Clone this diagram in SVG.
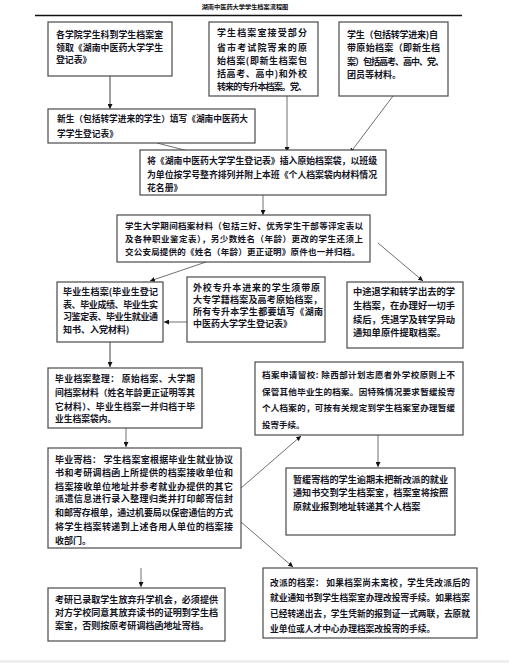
<svg xmlns="http://www.w3.org/2000/svg" width="509" height="663" viewBox="0 0 509 663">
<style>
.box{fill:#fff;stroke:#4a4a4a;stroke-width:1.2}
.t{font-family:"Noto Sans CJK SC","Noto Sans",sans-serif;font-weight:bold;fill:#15151f}
.c{fill:none;stroke:#707070;stroke-width:1}
.cg{fill:none;stroke:#8a8a8a;stroke-width:1.6}
.title{font-family:"Noto Sans CJK SC","Noto Sans",sans-serif;font-weight:bold;font-size:6.2px;fill:#111}
</style>
<defs>
<marker id="ah" viewBox="0 0 10 10" refX="10" refY="5" markerWidth="5" markerHeight="5" markerUnits="userSpaceOnUse" orient="auto">
<path d="M0,0 L10,5 L0,10 z" fill="#111"/>
</marker>
</defs>
<rect width="509" height="663" fill="#fff"/>
<rect x="0" y="660" width="509" height="3" fill="#efefef"/>
<text class="title" x="245" y="9" text-anchor="middle">湖南中医药大学学生档案流程图</text>
<line x1="35" y1="15.5" x2="462" y2="15.5" stroke="#111" stroke-width="1.3"/>

<g id="connectors">
<line class="cg" x1="110" y1="76" x2="110" y2="109" marker-end="url(#ah)"/>
<line class="c" x1="287" y1="96" x2="287" y2="152" marker-end="url(#ah)"/>
<line class="c" x1="393" y1="96" x2="350" y2="153" marker-end="url(#ah)"/>
<line class="c" x1="157" y1="143" x2="200" y2="154" marker-end="url(#ah)"/>
<line class="c" x1="263" y1="195" x2="263" y2="215" marker-end="url(#ah)"/>
<line class="c" x1="206" y1="262" x2="150" y2="281" marker-end="url(#ah)"/>
<line class="c" x1="378" y1="243" x2="423" y2="281" marker-end="url(#ah)"/>
<line class="c" x1="187" y1="322" x2="164" y2="322" marker-end="url(#ah)"/>
<line class="cg" x1="110" y1="342" x2="110" y2="367" marker-end="url(#ah)"/>
<line class="c" x1="126" y1="428" x2="126" y2="447" marker-end="url(#ah)"/>
<line class="c" x1="241" y1="488" x2="301" y2="436" marker-end="url(#ah)"/>
<line class="c" x1="378" y1="435" x2="378" y2="467" marker-end="url(#ah)"/>
<line class="c" x1="241" y1="522" x2="293" y2="567" marker-end="url(#ah)"/>
<line class="c" x1="141" y1="568" x2="141" y2="587" marker-end="url(#ah)"/>
</g>

<g id="n1">
<rect class="box" x="48" y="22" width="124" height="54"/>
<text class="t" font-size="8.9">
<tspan x="56" y="37.5" textLength="107" lengthAdjust="spacing">各学院学生科到学生档案室</tspan>
<tspan x="56" y="50.5" textLength="107" lengthAdjust="spacing">领取《湖南中医药大学学生</tspan>
<tspan x="56" y="62.5">登记表》</tspan>
</text>
</g>

<g id="n2">
<rect class="box" x="209" y="22" width="109" height="74"/>
<text class="t" font-size="9">
<tspan x="217" y="35.5" textLength="90" lengthAdjust="spacing">学生档案室接受部分</tspan>
<tspan x="217" y="50.5" textLength="90" lengthAdjust="spacing">省市考试院寄来的原</tspan>
<tspan x="217" y="64" textLength="90" lengthAdjust="spacing">始档案(即新生档案包</tspan>
<tspan x="217" y="77" textLength="90" lengthAdjust="spacing">括高考、高中)和外校</tspan>
<tspan x="217" y="90" textLength="90" lengthAdjust="spacing">转来的专升本档案。党、</tspan>
</text>
</g>

<g id="n3">
<rect class="box" x="339" y="22" width="109" height="74"/>
<text class="t" font-size="9">
<tspan x="347" y="37.5" textLength="91" lengthAdjust="spacing">学生（包括转学进来)自</tspan>
<tspan x="347" y="51" textLength="93" lengthAdjust="spacing">带原始档案（即新生档</tspan>
<tspan x="347" y="65" textLength="97" lengthAdjust="spacing">案）包括高考、高中、党、</tspan>
<tspan x="347" y="78">团员等材料。</tspan>
</text>
</g>

<g id="n4">
<rect class="box" x="48" y="109" width="207" height="34"/>
<text class="t" font-size="8.7">
<tspan x="57" y="121.5" textLength="191" lengthAdjust="spacing">新生（包括转学进来的学生）填写《湖南中医药大</tspan>
<tspan x="57" y="136.5">学学生登记表》</tspan>
</text>
</g>

<g id="n5">
<rect class="box" x="140" y="150" width="246" height="45"/>
<text class="t" font-size="8.85">
<tspan x="147" y="164" textLength="230" lengthAdjust="spacing">将《湖南中医药大学学生登记表》插入原始档案袋，以班级</tspan>
<tspan x="147" y="178" textLength="230" lengthAdjust="spacing">为单位按学号整齐排列并附上本班《个人档案袋内材料情况</tspan>
<tspan x="147" y="190.5">花名册》</tspan>
</text>
</g>

<g id="n6">
<rect class="box" x="117" y="215" width="253" height="47"/>
<text class="t" font-size="8.5">
<tspan x="125" y="229" textLength="238" lengthAdjust="spacing">学生大学期间档案材料（包括三好、优秀学生干部等评定表以</tspan>
<tspan x="125" y="241.5" textLength="238" lengthAdjust="spacing">及各种职业鉴定表），另少数姓名（年龄）更改的学生还须上</tspan>
<tspan x="125" y="255" textLength="235" lengthAdjust="spacing">交公安局提供的《姓名（年龄）更正证明》原件也一并归档。</tspan>
</text>
</g>

<g id="n7">
<rect class="box" x="57" y="282" width="106" height="60"/>
<text class="t" font-size="9">
<tspan x="63" y="295" textLength="95" lengthAdjust="spacing">毕业生档案(毕业生登记</tspan>
<tspan x="63" y="307.5" textLength="95" lengthAdjust="spacing">表、毕业成绩、毕业生实</tspan>
<tspan x="63" y="320" textLength="95" lengthAdjust="spacing">习鉴定表、毕业生就业通</tspan>
<tspan x="63" y="332.5">知书、入党材料)</tspan>
</text>
</g>

<g id="n8">
<rect class="box" x="187" y="277" width="138" height="65"/>
<text class="t" font-size="9">
<tspan x="193" y="291" textLength="127" lengthAdjust="spacing">外校专升本进来的学生须带原</tspan>
<tspan x="193" y="302.5" textLength="129" lengthAdjust="spacing">大专学籍档案及高考原始档案，</tspan>
<tspan x="193" y="315" textLength="130" lengthAdjust="spacing">所有专升本学生都要填写《湖南</tspan>
<tspan x="193" y="326.5">中医药大学学生登记表》</tspan>
</text>
</g>

<g id="n9">
<rect class="box" x="347" y="282" width="116" height="66"/>
<text class="t" font-size="9.3">
<tspan x="353" y="295" textLength="102" lengthAdjust="spacing">中途退学和转学出去的学</tspan>
<tspan x="353" y="309" textLength="102" lengthAdjust="spacing">生档案，在办理好一切手</tspan>
<tspan x="353" y="322.5" textLength="102" lengthAdjust="spacing">续后，凭退学及转学异动</tspan>
<tspan x="353" y="336">通知单原件提取档案。</tspan>
</text>
</g>

<g id="n10">
<rect class="box" x="48" y="368" width="154" height="60"/>
<text class="t" font-size="8.75">
<tspan x="55" y="382" textLength="140" lengthAdjust="spacing">毕业档案整理：  原始档案、大学期</tspan>
<tspan x="55" y="396" textLength="140" lengthAdjust="spacing">间档案材料（姓名年龄更正证明等其</tspan>
<tspan x="55" y="409.5" textLength="140" lengthAdjust="spacing">它材料）、毕业生档案一并归档于毕</tspan>
<tspan x="55" y="422">业生档案袋内。</tspan>
</text>
</g>

<g id="n11">
<rect class="box" x="255" y="362" width="208" height="73"/>
<text class="t" font-size="8.5">
<tspan x="262" y="378" textLength="193" lengthAdjust="spacing">档案申请留校: 除西部计划志愿者外学校原则上不</tspan>
<tspan x="262" y="395" textLength="193" lengthAdjust="spacing">保管其他毕业生的档案。因特殊情况要求暂缓投寄</tspan>
<tspan x="262" y="411" textLength="193" lengthAdjust="spacing">个人档案的，可按有关规定到学生档案室办理暂缓</tspan>
<tspan x="262" y="427.5">投寄手续。</tspan>
</text>
</g>

<g id="n12">
<rect class="box" x="48" y="448" width="193" height="100"/>
<text class="t" font-size="9">
<tspan x="55" y="462.5" textLength="178" lengthAdjust="spacing">毕业寄档：   学生档案室根据毕业生就业协议</tspan>
<tspan x="55" y="475.5" textLength="178" lengthAdjust="spacing">书和考研调档函上所提供的档案接收单位和</tspan>
<tspan x="55" y="489.5" textLength="178" lengthAdjust="spacing">档案接收单位地址并参考就业办提供的其它</tspan>
<tspan x="55" y="502" textLength="178" lengthAdjust="spacing">派遣信息进行录入整理归类并打印邮寄信封</tspan>
<tspan x="55" y="516" textLength="178" lengthAdjust="spacing">和邮寄存根单，通过机要局以保密通信的方式</tspan>
<tspan x="55" y="530" textLength="178" lengthAdjust="spacing">将学生档案转递到上述各用人单位的档案接</tspan>
<tspan x="55" y="543.5">收部门。</tspan>
</text>
</g>

<g id="n13">
<rect class="box" x="286" y="468" width="169" height="67"/>
<text class="t" font-size="9.1">
<tspan x="293" y="482.5" textLength="155" lengthAdjust="spacing">暂缓寄档的学生逾期未把新改派的就业</tspan>
<tspan x="293" y="496" textLength="155" lengthAdjust="spacing">通知书交到学生档案室，档案室将按照</tspan>
<tspan x="293" y="509.5">原就业报到地址转递其个人档案</tspan>
</text>
</g>

<g id="n14">
<rect class="box" x="263" y="568" width="214" height="70"/>
<text class="t" font-size="8.7">
<tspan x="270" y="585.5" textLength="200" lengthAdjust="spacing">改派的档案：  如果档案尚未离校，学生凭改派后的</tspan>
<tspan x="270" y="600.5" textLength="200" lengthAdjust="spacing">就业通知书到学生档案室办理改投寄手续。如果档案</tspan>
<tspan x="270" y="616.5" textLength="200" lengthAdjust="spacing">已经转递出去，学生凭新的报到证一式两联，去原就</tspan>
<tspan x="270" y="632">业单位或人才中心办理档案改投寄的手续。</tspan>
</text>
</g>

<g id="n15">
<rect class="box" x="48" y="588" width="177" height="53"/>
<text class="t" font-size="9.05">
<tspan x="55" y="602.5" textLength="163" lengthAdjust="spacing">考研已录取学生放弃升学机会，必须提供</tspan>
<tspan x="55" y="615.5" textLength="163" lengthAdjust="spacing">对方学校同意其放弃读书的证明到学生档</tspan>
<tspan x="55" y="628.5">案室，否则按原考研调档函地址寄档。</tspan>
</text>
</g>
</svg>
